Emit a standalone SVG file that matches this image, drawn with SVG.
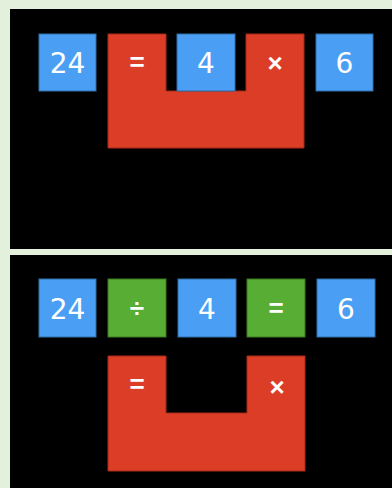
<svg xmlns="http://www.w3.org/2000/svg" width="392" height="488" viewBox="0 0 392 488">
<style>
.bg{fill:#e3f0dc}
.panel{fill:#000}
.blue{fill:#4a9ff5;stroke:#2f6ea8;stroke-width:1}
.green{fill:#58ad35;stroke:#3a7a22;stroke-width:1}
.red{fill:#dc3d27;stroke:#a82a18;stroke-width:1}
.t{fill:#fff;font-family:"DejaVu Sans",sans-serif;font-size:28px;text-anchor:middle}
.op{fill:#fff;font-family:"Liberation Sans",Arial,sans-serif;font-size:26px;font-weight:bold;text-anchor:middle}
</style>
<rect class="bg" x="0" y="0" width="392" height="488"/>
<rect class="panel" x="10" y="9" width="382" height="240"/>
<rect class="panel" x="10" y="255" width="382" height="233"/>

<g id="top-red">
<polygon class="red" points="108,34 166,34 166,91 246,91 246,34 304,34 304,148 108,148"/>
<text class="op" x="137" y="71">=</text>
<text class="op" x="275" y="72">×</text>
</g>
<g id="top-24"><rect class="blue" x="39" y="34" width="57" height="57"/><text class="t" x="67.5" y="73">24</text></g>
<g id="top-4"><rect class="blue" x="177" y="34" width="58" height="57"/><text class="t" x="206" y="73">4</text></g>
<g id="top-6"><rect class="blue" x="316" y="34" width="57" height="57"/><text class="t" x="344.5" y="73">6</text></g>

<g id="bot-24"><rect class="blue" x="39" y="279" width="57" height="58"/><text class="t" x="67.5" y="318.5">24</text></g>
<g id="bot-div"><rect class="green" x="108" y="279" width="58" height="58"/><text class="op" x="137" y="317">÷</text></g>
<g id="bot-4"><rect class="blue" x="178" y="279" width="58" height="58"/><text class="t" x="207" y="318.5">4</text></g>
<g id="bot-eq"><rect class="green" x="247" y="279" width="58" height="58"/><text class="op" x="276" y="317">=</text></g>
<g id="bot-6"><rect class="blue" x="317" y="279" width="58" height="58"/><text class="t" x="346" y="318.5">6</text></g>

<g id="bot-red">
<polygon class="red" points="108,356 166,356 166,413 247,413 247,356 305,356 305,471 108,471"/>
<text class="op" x="137" y="393">=</text>
<text class="op" x="277" y="396">×</text>
</g>
<g id="connectors"/>
</svg>
